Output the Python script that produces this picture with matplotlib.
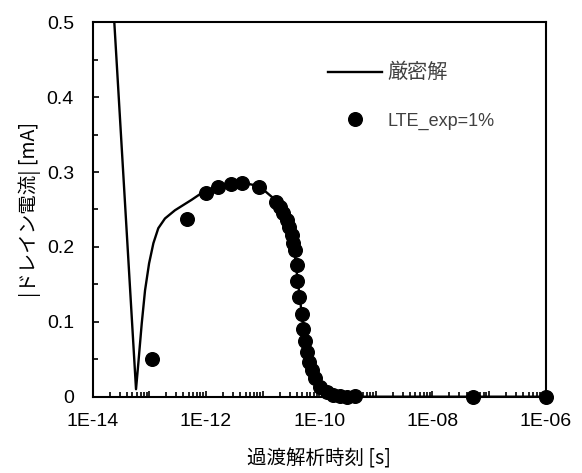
import numpy as np
import matplotlib
matplotlib.use("Agg")
import matplotlib.pyplot as plt
from matplotlib.ticker import FixedLocator, FuncFormatter, NullFormatter

plt.rcParams['font.family'] = ['Noto Sans CJK JP', 'DejaVu Sans']

# exact solution (line)
t_exact = [2.0e-14, 5.82e-14, 6.4e-14, 7.35e-14, 8.4e-14, 9.9e-14, 1.18e-13,
           1.44e-13, 1.89e-13, 2.84e-13, 5.6e-13, 8.4e-13,
           1.6e-12, 2.7e-12, 4.4e-12, 8.8e-12, 1.73e-11, 2.68e-11, 3.5e-11,
           4.1e-11, 4.9e-11, 6.0e-11, 7.4e-11, 1.0e-10, 1.4e-10, 2.3e-10,
           4.3e-10, 1e-6]
i_exact = [0.603, 0.010, 0.045, 0.098, 0.142, 0.178, 0.205,
           0.225, 0.238, 0.249, 0.263, 0.272,
           0.281, 0.285, 0.286, 0.281, 0.262, 0.237, 0.206,
           0.160, 0.112, 0.061, 0.036, 0.013, 0.005, 0.001,
           0.0, 0.0]

# LTE_exp=1% simulation points
t_lte = [1.1e-13, 4.6e-13, 1.0e-12, 1.6e-12, 2.74e-12, 4.4e-12, 8.8e-12,
         1.73e-11, 2.04e-11, 2.33e-11, 2.68e-11, 2.97e-11, 3.28e-11, 3.5e-11,
         3.75e-11, 4.02e-11, 4.12e-11, 4.42e-11, 4.93e-11, 5.26e-11, 5.64e-11,
         6.04e-11, 6.71e-11, 7.4e-11, 8.47e-11, 1.04e-10, 1.36e-10, 1.78e-10,
         2.34e-10, 3.08e-10, 4.3e-10, 5.2e-8, 1e-6]
i_lte = [0.050, 0.237, 0.272, 0.280, 0.284, 0.285, 0.280,
         0.260, 0.254, 0.245, 0.236, 0.227, 0.216, 0.205,
         0.196, 0.176, 0.155, 0.133, 0.111, 0.091, 0.074,
         0.060, 0.047, 0.036, 0.025, 0.013, 0.0067, 0.002,
         0.0005, 0.0, 0.001, 0.0, 0.0]

W, H = 582, 473
fig = plt.figure(figsize=(W / 100, H / 100), dpi=100)
ax = fig.add_axes([92.7 / W, (H - 396.7) / H, 453 / W, 374.4 / H])

ax.plot(t_exact, i_exact, '-', color='black', lw=1.7, label='厳密解')
ax.plot(t_lte, i_lte, 'o', color='black', ms=9.8, clip_on=False, zorder=5,
        label='LTE_exp=1%')

ax.set_xscale('log')
ax.set_xlim(1e-14, 1e-6)
ax.set_ylim(0, 0.5)

ax.xaxis.set_major_locator(FixedLocator([10.0 ** e for e in range(-14, -5)]))
ax.xaxis.set_major_formatter(FuncFormatter(
    lambda v, p: '1E-%02d' % round(-np.log10(v)) if round(np.log10(v)) % 2 == 0 else ''))
ax.xaxis.set_minor_locator(matplotlib.ticker.LogLocator(base=10, subs=np.arange(2, 10), numticks=100))
ax.xaxis.set_minor_formatter(NullFormatter())
ax.yaxis.set_major_locator(FixedLocator([0, 0.1, 0.2, 0.3, 0.4, 0.5]))
ax.yaxis.set_minor_locator(FixedLocator([0.05, 0.15, 0.25, 0.35, 0.45]))
ax.yaxis.set_major_formatter(FuncFormatter(lambda v, p: '0' if v == 0 else '%.1f' % v))

ax.tick_params(which='both', direction='in', width=1.2, colors='black')
ax.tick_params(which='major', length=4.5)
ax.tick_params(which='minor', length=3.5)
ax.tick_params(axis='x', which='major', pad=12)
ax.tick_params(axis='y', which='major', pad=13.5)
for lab in ax.get_xticklabels() + ax.get_yticklabels():
    lab.set_fontfamily(['Liberation Sans', 'DejaVu Sans'])
    lab.set_fontsize(14)
for s in ax.spines.values():
    s.set_linewidth(1.5)

ax.set_xlabel('過渡解析時刻 [s]', fontsize=14, labelpad=13)
ax.set_ylabel('|ドレイン電流| [mA]', fontsize=14, labelpad=4)

leg = ax.legend(loc='upper left', bbox_to_anchor=(0.52, 0.893), frameon=False,
                prop={'family': ['Liberation Sans', 'Noto Sans CJK JP'], 'size': 13},
                handlelength=3.0, handletextpad=0.3,
                labelspacing=1.62, borderpad=0, borderaxespad=0)
texts = leg.get_texts()
texts[0].set_fontfamily(['Noto Sans CJK JP', 'DejaVu Sans'])
texts[0].set_fontsize(14.5)
for txt in texts:
    txt.set_color('#404040')

fig.savefig('out.png', dpi=100)
